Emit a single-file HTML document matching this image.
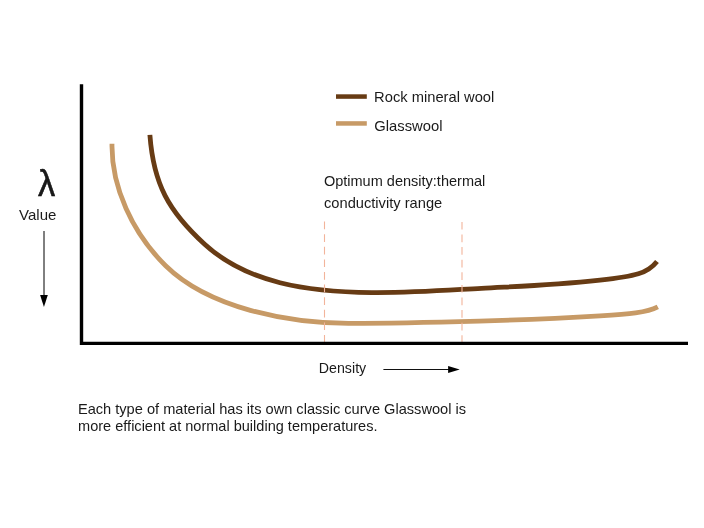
<!DOCTYPE html>
<html><head><meta charset="utf-8"><title>Lambda value vs density</title>
<style>
html,body{margin:0;padding:0;background:#fff;}
body{width:704px;height:528px;overflow:hidden;}
svg{display:block;}
text{font-family:"Liberation Sans",sans-serif;fill:#1a1a1a;}
</style></head><body>
<svg width="704" height="528" viewBox="0 0 704 528">
<rect width="704" height="528" fill="#fff"/>
<!-- curves -->
<path d="M112.00,143.70 C111.15,186.55 132.42,233.06 165.65,265.74 C208.19,307.59 287.41,323.62 350.09,323.36 C393.30,323.18 436.47,322.17 479.28,321.04 C518.11,320.02 553.62,318.70 600.00,315.80 C628.76,314.00 646.80,312.53 657.80,306.80" fill="none" stroke="#c79a66" stroke-width="4.8" stroke-linejoin="round"/>
<path d="M149.89,134.90 C153.49,184.09 168.52,211.22 204.64,244.24 C246.97,282.95 307.51,292.03 371.88,292.53 C414.39,292.86 448.09,290.11 481.43,288.28 C519.09,286.22 551.22,285.39 600.00,280.09 C635.64,276.23 647.54,273.33 657.00,261.40" fill="none" stroke="#673b14" stroke-width="4.8" stroke-linejoin="round"/>
<!-- dashed optimum range -->
<line x1="324.5" y1="221.6" x2="324.5" y2="342" stroke="#f2b49b" stroke-width="1.1" stroke-dasharray="7.7 4.9"/>
<line x1="462" y1="221.9" x2="462" y2="342" stroke="#f2b49b" stroke-width="1.1" stroke-dasharray="7.7 4.9"/>
<!-- axes -->
<path d="M81.5,84.3 V343.4 H688" fill="none" stroke="#000" stroke-width="3.4" stroke-linejoin="miter"/>
<!-- legend -->
<rect x="336" y="94.3" width="30.8" height="4.5" fill="#673b14"/>
<rect x="336" y="121.2" width="30.8" height="4.5" fill="#c79a66"/>
<text x="374.1" y="102.2" font-size="15" textLength="120.2" lengthAdjust="spacingAndGlyphs">Rock mineral wool</text>
<text x="374.3" y="130.8" font-size="15" textLength="68.2" lengthAdjust="spacingAndGlyphs">Glasswool</text>
<!-- annotation -->
<text x="323.9" y="185.6" font-size="15" textLength="161.4" lengthAdjust="spacingAndGlyphs">Optimum density:thermal</text>
<text x="324.0" y="208.1" font-size="15" textLength="118.2" lengthAdjust="spacingAndGlyphs">conductivity range</text>
<!-- y label -->
<text x="38.1" y="195.8" font-size="37" textLength="17.2" lengthAdjust="spacingAndGlyphs" stroke="#000" stroke-width="0.5" fill="#000">λ</text>
<text x="19.1" y="220.2" font-size="15" textLength="37.3" lengthAdjust="spacingAndGlyphs">Value</text>
<line x1="44" y1="231" x2="44" y2="296" stroke="#000" stroke-width="1"/>
<path d="M40.1,295 H47.8 L43.95,307 Z" fill="#000"/>
<!-- x label -->
<text x="318.8" y="373.3" font-size="15" textLength="47.4" lengthAdjust="spacingAndGlyphs">Density</text>
<line x1="383.4" y1="369.45" x2="449" y2="369.45" stroke="#111" stroke-width="1.1"/>
<path d="M448.1,365.9 V372.9 L459.7,369.4 Z" fill="#000"/>
<!-- caption -->
<text x="77.9" y="414.2" font-size="15" textLength="388.2" lengthAdjust="spacingAndGlyphs">Each type of material has its own classic curve Glasswool is</text>
<text x="78.1" y="431" font-size="15" textLength="299.4" lengthAdjust="spacingAndGlyphs">more efficient at normal building temperatures.</text>
</svg>
</body></html>
